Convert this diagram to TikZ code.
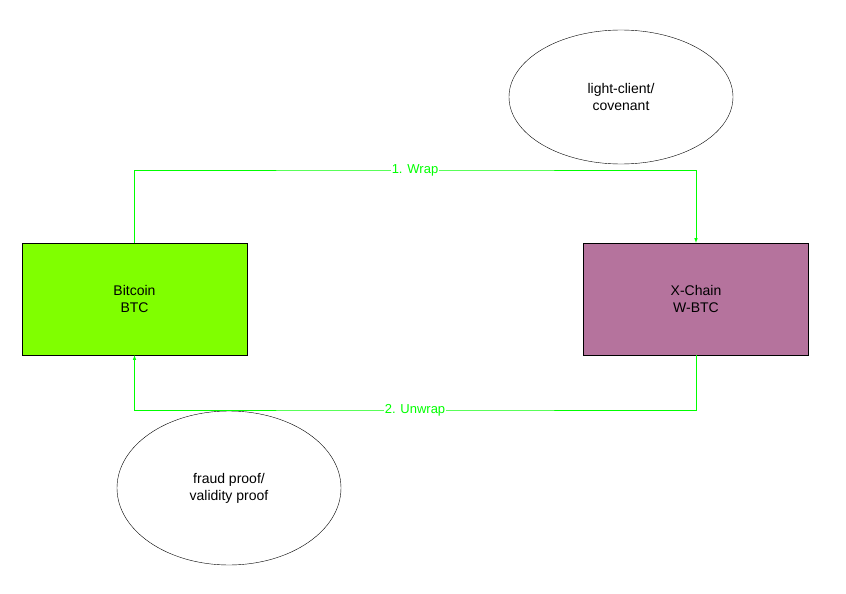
\documentclass[tikz,border=0pt]{standalone}
\usepackage{fontspec}
\setmainfont{Liberation Sans}
\usetikzlibrary{shapes.geometric}
\definecolor{btcgreen}{HTML}{80FF00}
\definecolor{xpurple}{HTML}{B5739D}
\definecolor{wire}{HTML}{00FF00}
\begin{document}
\begin{tikzpicture}[x={(1pt, 0pt)}, y={(0pt, -1pt)}]
  \tikzstyle{chain}=[draw, minimum width=225pt, minimum height=112pt, align=center, font=\fontsize{14}{17}\selectfont]
  \tikzstyle{proof}=[draw, ellipse, align=center, font=\fontsize{14}{17}\selectfont, inner sep=0pt]
  \tikzstyle{flow}=[wire, semithick, -latex]
  \useasboundingbox (0, 0) rectangle (846, 594);

\node[chain, fill=btcgreen] (btc) at (134.5, 299) {Bitcoin\\BTC};
\node[chain, fill=xpurple] (xc) at (696, 299) {X-Chain\\W-BTC};

\node[proof, minimum width=224pt, minimum height=134pt] (lc) at (621, 97) {light-client/\\covenant};
\node[proof, minimum width=224pt, minimum height=154pt] (fp) at (229, 488) {fraud proof/\\validity proof};

\draw[flow] (btc.north) |- (415, 170) node[fill=white, inner sep=1pt, font=\fontsize{13}{15}\selectfont] {1. Wrap} -| (xc.north);
\draw[flow] (xc.south) |- (415, 410) node[fill=white, inner sep=1pt, font=\fontsize{13}{15}\selectfont] {2. Unwrap} -| (btc.south);
\end{tikzpicture}
\end{document}
